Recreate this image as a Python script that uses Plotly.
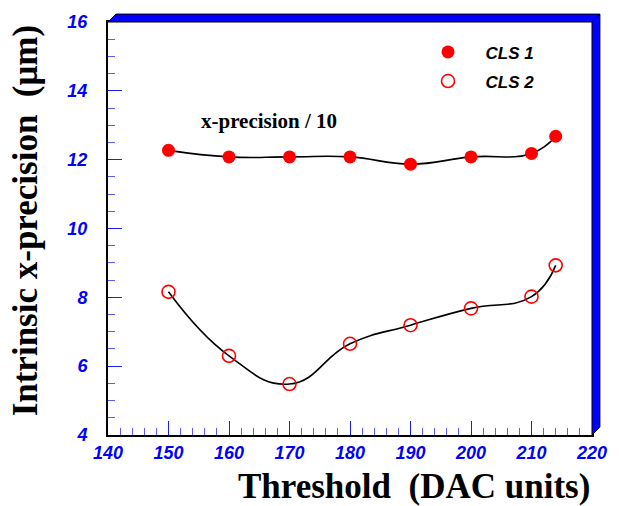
import plotly.graph_objects as go

# Threshold scan (DAC units)
threshold = [150, 160, 170, 180, 190, 200, 210, 214]
# Intrinsic x-precision, cluster size 1 (plotted divided by 10)
cls1 = [12.27, 12.08, 12.08, 12.08, 11.87, 12.08, 12.18, 12.68]
# Intrinsic x-precision, cluster size 2
cls2 = [8.16, 6.30, 5.48, 6.65, 7.19, 7.68, 8.02, 8.93]

y_ticks = [4, 6, 8, 10, 12, 14, 16]
x_ticks = [140, 150, 160, 170, 180, 190, 200, 210, 220]

RED = "#ff0000"
BLUE = "#0000ff"
TICKBLUE = "#1a1aff"

fig = go.Figure()

# Smooth curves through the points
for ys in (cls1, cls2):
    fig.add_trace(go.Scatter(
        x=threshold, y=ys, mode="lines",
        line=dict(color="black", width=1.6, shape="spline", smoothing=1.3),
        showlegend=False, hoverinfo="skip",
    ))

fig.add_trace(go.Scatter(
    x=threshold, y=cls1, mode="markers", name="CLS 1", legendgroup="g1",
    marker=dict(symbol="circle", size=13, color=RED, line=dict(width=0)),
))
fig.add_trace(go.Scatter(
    x=threshold, y=cls2, mode="markers", name="CLS 2", legendgroup="g2",
    marker=dict(symbol="circle-open", size=13, color=RED, line=dict(width=1.6, color=RED)),
))

L, R, T, B = 108, 21, 17, 71
W, H = 619, 506
pw, ph = W - L - R, H - T - B
dx, dy = 8 / pw, 8 / ph

# 3D frame: blue bands along the top and right edges
shapes = [
    dict(type="path", xref="paper", yref="paper",
         path=f"M 0 1 L {dx} {1+dy} L {1+dx} {1+dy} L 1 1 Z",
         fillcolor=BLUE, line=dict(color="black", width=1)),
    dict(type="path", xref="paper", yref="paper",
         path=f"M 1 1 L {1+dx} {1+dy} L {1+dx} {dy} L 1 0 Z",
         fillcolor=BLUE, line=dict(color="black", width=1)),
]

tickfont = dict(family="Liberation Sans, Arial", size=18, color=BLUE,
                weight="bold", style="italic")

fig.update_layout(
    width=W, height=H,
    margin=dict(l=L, r=R, t=T, b=B, pad=0),
    paper_bgcolor="white", plot_bgcolor="white",
    shapes=shapes,
    xaxis=dict(
        range=[140, 220], tickvals=x_ticks, ticktext=[str(v) for v in x_ticks],
        ticks="inside", ticklen=14, tickwidth=1, tickcolor=TICKBLUE,
        minor=dict(dtick=2, ticks="inside", ticklen=7, tickwidth=1, tickcolor="#5a5aff"),
        showline=True, linecolor="black", linewidth=2, mirror=True,
        showgrid=False, zeroline=False, tickfont=tickfont,
    ),
    yaxis=dict(
        range=[4, 16], tickvals=y_ticks, ticktext=[str(v) for v in y_ticks],
        ticks="inside", ticklen=14, tickwidth=1, tickcolor=TICKBLUE,
        minor=dict(dtick=0.5, ticks="inside", ticklen=7, tickwidth=1, tickcolor="#5a5aff"),
        showline=True, linecolor="black", linewidth=2, mirror=True,
        showgrid=False, zeroline=False, tickfont=tickfont,
        ticklabelstandoff=15,
    ),
    legend=dict(
        x=0.625, y=0.97, xanchor="left", yanchor="top",
        bgcolor="rgba(0,0,0,0)", itemwidth=65, tracegroupgap=4,
        font=dict(family="Liberation Sans, Arial", size=17, color="black",
                  weight="bold", style="italic"),
    ),
    annotations=[
        dict(text="<b>x-precision / 10</b>", x=0.188, y=0.76, xref="paper", yref="paper",
             xanchor="left", yanchor="middle", showarrow=False,
             font=dict(family="Liberation Serif, Times New Roman", size=21, color="black")),
        dict(text="<b>Threshold\u00a0\u00a0(DAC units)</b>", x=1.0, y=-0.125,
             xref="paper", yref="paper", xanchor="right", yanchor="middle", showarrow=False,
             font=dict(family="Liberation Serif, Times New Roman", size=35, color="black")),
        dict(text="<b>Intrinsic x-precision\u00a0\u00a0(\u03bcm)</b>", x=-0.17, y=0.519,
             xref="paper", yref="paper", xanchor="center", yanchor="middle",
             textangle=-90, showarrow=False,
             font=dict(family="Liberation Serif, Times New Roman", size=35, color="black")),
    ],
)

fig.write_html("out.html")
